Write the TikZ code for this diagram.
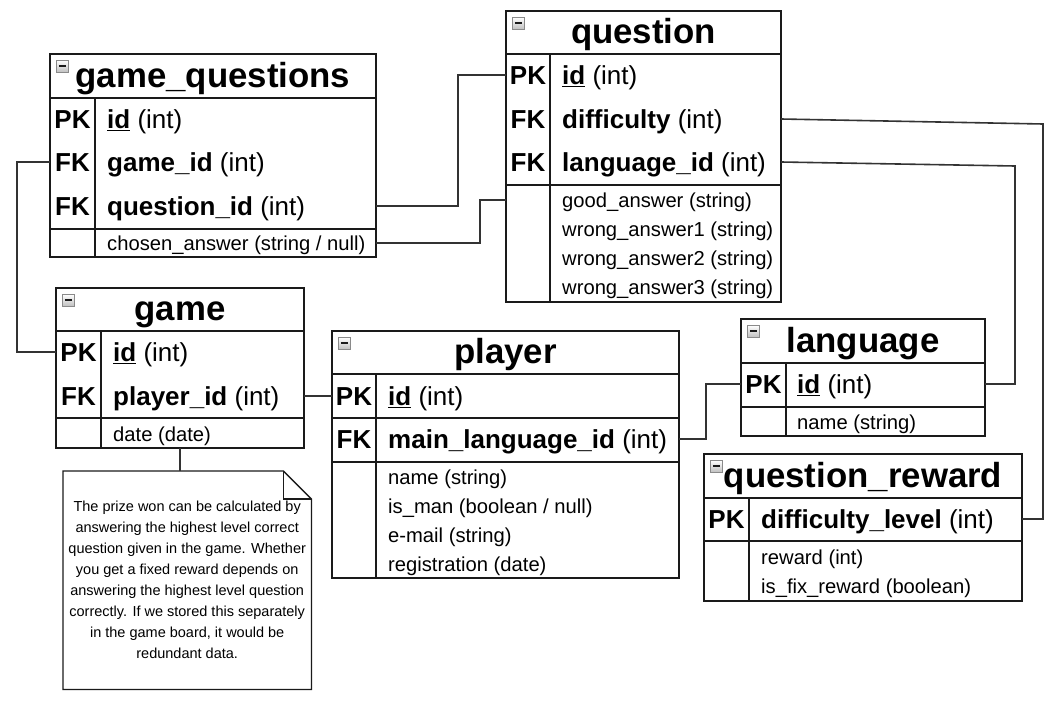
\documentclass[tikz,border=0pt]{standalone}
\usepackage{fontspec}
\setmainfont{Liberation Sans}
\usepackage{tikz}
\usetikzlibrary{positioning,calc}
\definecolor{ink}  {HTML}{1A1A1A}
\definecolor{wire} {HTML}{333333}
\definecolor{icon} {HTML}{8A8A8A}
\tikzset{
  % --- nodes
  sec/.style   = {draw=ink, line width=1.3pt, fill=white, inner sep=0pt, outer sep=0pt,
                  anchor=north west},
  ttl/.style   = {sec, font=\fontsize{34.8}{40}\selectfont\bfseries,
                  text height=25pt, text depth=3pt},
  minus/.style = {draw=icon, line width=0.6pt, top color=white, bottom color=icon!55,
                  minimum size=12pt, inner sep=0pt, anchor=north west,
                  path picture={\draw[line width=1.7pt, ink]
                    ([xshift=2.5pt]path picture bounding box.west) --
                    ([xshift=-2.5pt]path picture bounding box.east);}},
  pk/.style    = {inner sep=0pt, text height=18.6pt, text depth=0pt,
                  font=\fontsize{26}{30}\selectfont\bfseries},
  fld/.style   = {pk, anchor=west, font=\fontsize{26}{30}\selectfont},
  att/.style   = {anchor=west, inner sep=0pt, text height=14.5pt, text depth=0pt,
                  font=\fontsize{20.2}{24}\selectfont},
  note/.style  = {inner sep=0pt, anchor=north west, align=center,
                  font=\fontsize{14.5}{21}\selectfont},
  % --- edges
  e/.style     = {draw=wire, line width=1.6pt},
  col/.style   = {draw=ink, line width=1.3pt},
}

\begin{document}
\begin{tikzpicture}[x=1pt, y=-1pt]
  \useasboundingbox (0,0) rectangle (1057,704);

  % game_questions
  \node[ttl, minimum width=326, minimum height=44] (gq) at (50,54) {game\_questions};
  \node[sec, minimum width=326, minimum height=131] (gq-k) at (gq.south west) {};
  \node[sec, minimum width=326, minimum height=28] (gq-a) at (gq-k.south west) {};
  \node[minus] (gq-m) at ([shift={(6,6)}]gq.north west) {};
  \draw[col] ([xshift=45]gq-k.north west) -- ([xshift=45]gq-a.south west);
  \node[pk] (gq-p1) at (72.5,119) {PK};
  \node[pk] (gq-p2) at (72.5,162) {FK};
  \node[pk] (gq-p3) at (72.5,206) {FK};
  \node[fld] (gq-id)  at (107,119) {\underline{\textbf{id}} (int)};
  \node[fld] (gq-gid) at (107,162) {\textbf{game\_id} (int)};
  \node[fld] (gq-qid) at (107,206) {\textbf{question\_id} (int)};
  \node[att] (gq-ans) at (107,243) {chosen\_answer (string / null)};

  % question
  \node[ttl, minimum width=275, minimum height=43] (q) at (506,11) {question};
  \node[sec, minimum width=275, minimum height=131] (q-k) at (q.south west) {};
  \node[sec, minimum width=275, minimum height=117] (q-a) at (q-k.south west) {};
  \node[minus] (q-m) at ([shift={(6,6)}]q.north west) {};
  \draw[col] ([xshift=44]q-k.north west) -- ([xshift=44]q-a.south west);
  \node[pk] (q-p1) at (528,75) {PK};
  \node[pk] (q-p2) at (528,119) {FK};
  \node[pk] (q-p3) at (528,162) {FK};
  \node[fld] (q-id)   at (562,75)  {\underline{\textbf{id}} (int)};
  \node[fld] (q-diff) at (562,119) {\textbf{difficulty} (int)};
  \node[fld] (q-lang) at (562,162) {\textbf{language\_id} (int)};
  \node[att] (q-good) at (562,200) {good\_answer (string)};
  \node[att] (q-w1)   at (562,229) {wrong\_answer1 (string)};
  \node[att] (q-w2)   at (562,258) {wrong\_answer2 (string)};
  \node[att] (q-w3)   at (562,287) {wrong\_answer3 (string)};

  % game
  \node[ttl, minimum width=248, minimum height=43] (gm) at (56,288) {game};
  \node[sec, minimum width=248, minimum height=87] (gm-k) at (gm.south west) {};
  \node[sec, minimum width=248, minimum height=30] (gm-a) at (gm-k.south west) {};
  \node[minus] (gm-m) at ([shift={(6,6)}]gm.north west) {};
  \draw[col] ([xshift=45]gm-k.north west) -- ([xshift=45]gm-a.south west);
  \node[pk] (gm-p1) at (78.5,352) {PK};
  \node[pk] (gm-p2) at (78.5,396) {FK};
  \node[fld] (gm-id)  at (113,352) {\underline{\textbf{id}} (int)};
  \node[fld] (gm-pid) at (113,396) {\textbf{player\_id} (int)};
  \node[att] (gm-dt)  at (113,434) {date (date)};

  % player
  \node[ttl, minimum width=347, minimum height=43] (pl) at (332,331) {player};
  \node[sec, minimum width=347, minimum height=44] (pl-k1) at (pl.south west) {};
  \node[sec, minimum width=347, minimum height=44] (pl-k2) at (pl-k1.south west) {};
  \node[sec, minimum width=347, minimum height=116] (pl-a) at (pl-k2.south west) {};
  \node[minus] (pl-m) at ([shift={(6,6)}]pl.north west) {};
  \draw[col] ([xshift=44]pl-k1.north west) -- ([xshift=44]pl-a.south west);
  \node[pk] (pl-p1) at (354,396) {PK};
  \node[pk] (pl-p2) at (354,439) {FK};
  \node[fld] (pl-id)  at (388,396) {\underline{\textbf{id}} (int)};
  \node[fld] (pl-lid) at (388,439) {\textbf{main\_language\_id} (int)};
  \node[att] (pl-nm)  at (388,477) {name (string)};
  \node[att] (pl-man) at (388,506) {is\_man (boolean / null)};
  \node[att] (pl-em)  at (388,535) {e-mail (string)};
  \node[att] (pl-reg) at (388,564) {registration (date)};

  % language
  \node[ttl, minimum width=244, minimum height=44] (la) at (741,319) {language};
  \node[sec, minimum width=244, minimum height=44] (la-k) at (la.south west) {};
  \node[sec, minimum width=244, minimum height=29] (la-a) at (la-k.south west) {};
  \node[minus] (la-m) at ([shift={(6,6)}]la.north west) {};
  \draw[col] ([xshift=45]la-k.north west) -- ([xshift=45]la-a.south west);
  \node[pk] (la-p1) at (763.5,384) {PK};
  \node[fld] (la-id) at (797,384) {\underline{\textbf{id}} (int)};
  \node[att] (la-nm) at (797,422) {name (string)};

  % question_reward
  \node[ttl, minimum width=318, minimum height=44] (qr) at (704,454) {question\_reward};
  \node[sec, minimum width=318, minimum height=43] (qr-k) at (qr.south west) {};
  \node[sec, minimum width=318, minimum height=60] (qr-a) at (qr-k.south west) {};
  \node[minus] (qr-m) at ([shift={(6,6)}]qr.north west) {};
  \draw[col] ([xshift=45]qr-k.north west) -- ([xshift=45]qr-a.south west);
  \node[pk] (qr-p1) at (726.5,519) {PK};
  \node[fld] (qr-lvl) at (761,519) {\textbf{difficulty\_level} (int)};
  \node[att] (qr-rw)  at (761,557) {reward (int)};
  \node[att] (qr-fix) at (761,586) {is\_fix\_reward (boolean)};

  % note
  \node[note, minimum width=248, minimum height=218] (nt) at (63,471)
    {The prize won can be calculated by\\answering the highest level correct\\
     question given in the game. Whether\\you get a fixed reward depends on\\
     answering the highest level question\\correctly. If we stored this separately\\
     in the game board, it would be\\redundant data.};
  \draw[col] (nt.north west) -- ([xshift=-28]nt.north east) -- ([yshift=-28]nt.north east)
    -- (nt.south east) -- (nt.south west) -- cycle;
  \draw[col] ([xshift=-28]nt.north east) |- ([yshift=-28]nt.north east);

  % links
  \coordinate (bendA) at (1043,124);
  \coordinate (bendB) at (1015,166);
  \draw[e] (gq-gid -| gq-k.west) -- ++(-33,0) |- (gm-id -| gm-k.west);
  \draw[e] (gq-qid -| gq-k.east) -- ++(82,0) |- (q-id -| q-k.west);
  \draw[e] (gq-ans -| gq-a.east) -- ++(104,0) |- (q-good -| q-a.west);
  \draw[e] (gm-pid -| gm-k.east) -- (pl-id -| pl-k1.west);
  \draw[e] (pl-lid -| pl-k2.east) -- ++(27,0) |- (la-id -| la-k.west);
  \draw[e] (q-diff -| q-k.east) -- (bendA) |- (qr-lvl -| qr-k.east);
  \draw[e] (q-lang -| q-k.east) -- (bendB) |- (la-id -| la-k.east);
  \draw[e] (gm-a.south) -- (gm-a.south |- nt.north);
\end{tikzpicture}
\end{document}
